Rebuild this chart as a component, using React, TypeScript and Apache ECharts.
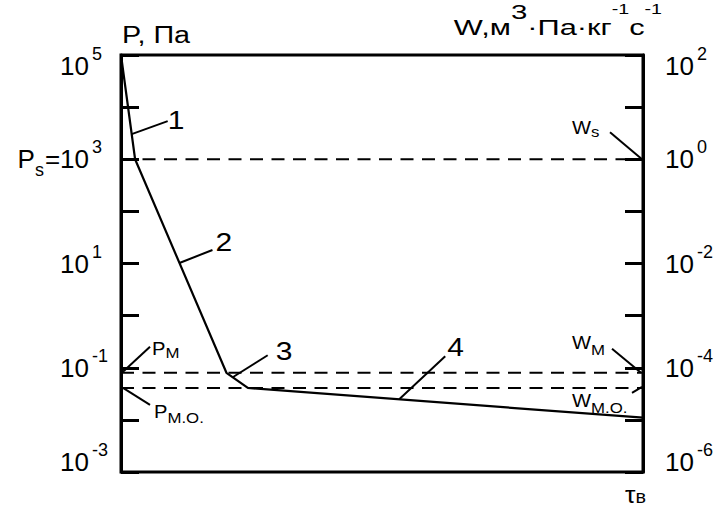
import React, { useEffect, useRef } from 'react';
import * as echarts from 'echarts';

// ---- data ----
const tau = [0, 2.7, 20.2, 24.3, 100];
const pressure = [1e5, 1e3, 0.08, 0.041, 0.011];
const tauMin = 0;
const tauMax = 100;
const levelPs = 1e3;
const levelPm = 0.08;
const levelPmo = 0.041;
const leftRange = [1e-3, 1e5];
const rightRange = [1e-6, 1e2];
const leftLabelExps = [5, 3, 1, -1, -3];
const rightLabelExps = [2, 0, -2, -4, -6];
const curveLabels = ['1', '2', '3', '4'];
const curveLabelTau = [2.05, 11.2, 21.4, 53.3];

// ---- styling / layout ----
const FONT = '"Liberation Sans", Arial, sans-serif';
const NUM = 26;
const SUP = 18;
const TXT_SCALE = 1.2;

function labelRich(key: string, d: number, H: number) {
  const padTop = H / 2 + d - NUM / 2;
  const num = {
    fontSize: NUM, lineHeight: H, fontFamily: FONT, color: '#000',
    verticalAlign: 'top', padding: [padTop, 0, H - NUM - padTop, 0],
  };
  const supTop = padTop + NUM / 2 - 12 - SUP / 2;
  const sup = (padRight: number) => ({
    fontSize: SUP, lineHeight: H, fontFamily: FONT, color: '#000',
    verticalAlign: 'top', padding: [supTop, padRight, 0, 3],
  });
  return {
    ['n' + key]: num,
    ['p' + key]: num,
    ['s' + key + '1']: sup(10),
    ['s' + key + '2']: sup(4),
    ['b' + key]: {
      fontSize: SUP, lineHeight: H, fontFamily: FONT, color: '#000',
      verticalAlign: 'top', padding: [padTop + NUM / 2 + 11 - SUP / 2, 1, 0, 0],
    },
  };
}

const axisRich = {
  ...labelRich('M', 0, 42),
  ...labelRich('T', 11, 48),
  ...labelRich('B', -10, 62),
};

function makeFormatter(exps: number[], withPs: boolean) {
  return (v: number) => {
    const e = Math.round(Math.log10(v));
    if (!exps.includes(e)) return '';
    const key = e === exps[0] ? 'T' : e === exps[exps.length - 1] ? 'B' : 'M';
    const s = `s${key}${String(e).length}`;
    if (withPs && e === 3) {
      return `{p${key}|P}{b${key}|s}{n${key}|=10}{${s}|${e}}`;
    }
    return `{n${key}|10}{${s}|${e}}`;
  };
}

const levelNotes = [
  { main: 'P', sub: 'М', tau: tauMin, p: levelPm, l: [2, -1, 29, -26], t: [31, -24], subDy: 4 },
  { main: 'P', sub: 'М.О.', tau: tauMin, p: levelPmo, l: [2, 0, 29, 17], t: [33, 23.5], subDy: 6 },
  { main: 'W', sub: 's', tau: tauMax, p: levelPs, l: [-1, 0, -33, -27], t: [-71, -31.5], subDy: 4 },
  { main: 'W', sub: 'М', tau: tauMax, p: levelPm, l: [-2, 0, -31, -24], t: [-71, -30], subDy: 7 },
  { main: 'W', sub: 'М.О.', tau: tauMax, p: levelPmo, l: [-1, -1, -11, 5], t: [-71, 12.5], subDy: 7 },
];

const curveNoteOffsets = [
  { l: [36, -13], t: [36, -14] },
  { l: [33, -13], t: [36, -21] },
  { l: [35, -22], t: [43, -26] },
  { l: [46, -43], t: [48, -52] },
];

function pressureAt(t: number) {
  for (let i = 0; i < tau.length - 1; i++) {
    if (t >= tau[i] && t <= tau[i + 1]) {
      const f = (t - tau[i]) / (tau[i + 1] - tau[i]);
      const lg = Math.log10(pressure[i]) + f * (Math.log10(pressure[i + 1]) - Math.log10(pressure[i]));
      return Math.pow(10, lg);
    }
  }
  return pressure[pressure.length - 1];
}

const dashed = { color: '#000', width: 2, type: [13, 8.5] as number[] };

const option: any = {
  animation: false,
  backgroundColor: '#fff',
  grid: {
    left: 121, top: 55, right: 79, bottom: 36,
    containLabel: false, outerBoundsMode: 'none',
    show: true, borderColor: '#000', borderWidth: 3, backgroundColor: 'transparent',
  },
  xAxis: { type: 'value', min: tauMin, max: tauMax, show: false },
  yAxis: [
    {
      type: 'log', logBase: 10, min: leftRange[0], max: leftRange[1], position: 'left',
      axisLine: { show: true, lineStyle: { color: '#000', width: 3 } },
      splitLine: { show: false },
      axisTick: { show: true, inside: true, length: 18, lineStyle: { color: '#000', width: 3 } },
      axisLabel: {
        show: true, margin: 9, showMinLabel: true, showMaxLabel: true,
        formatter: makeFormatter(leftLabelExps, true), rich: axisRich,
      },
    },
    {
      type: 'log', logBase: 10, min: rightRange[0], max: rightRange[1], position: 'right',
      axisLine: { show: true, lineStyle: { color: '#000', width: 3 } },
      splitLine: { show: false },
      axisTick: { show: true, inside: true, length: 18, lineStyle: { color: '#000', width: 3 } },
      axisLabel: {
        show: true, margin: 22, showMinLabel: true, showMaxLabel: true,
        formatter: makeFormatter(rightLabelExps, false), rich: axisRich,
      },
    },
  ],
  series: [
    {
      type: 'line', yAxisIndex: 0, symbol: 'none', silent: true,
      lineStyle: { color: '#000', width: 2.2 },
      data: tau.map((t, i) => [t, pressure[i]]),
      z: 5,
    },
    ...[levelPs, levelPm, levelPmo].map((lv) => ({
      type: 'line', yAxisIndex: 0, symbol: 'none', silent: true,
      lineStyle: dashed,
      data: [[tauMin, lv], [tauMax, lv]],
      z: 4,
    })),
  ],
};

function buildGraphics(chart: echarts.ECharts) {
  const toPx = (t: number, p: number) =>
    chart.convertToPixel({ xAxisIndex: 0, yAxisIndex: 0 } as any, [t, p]) as number[];
  const els: any[] = [];
  const line = (x1: number, y1: number, x2: number, y2: number) => ({
    type: 'line', silent: true, z: 10,
    shape: { x1, y1, x2, y2 },
    style: { stroke: '#000', lineWidth: 2 },
  });

  curveLabels.forEach((txt, i) => {
    const t = curveLabelTau[i];
    const [ax, ay] = toPx(t, pressureAt(t));
    const o = curveNoteOffsets[i];
    els.push(line(ax, ay, ax + o.l[0], ay + o.l[1]));
    els.push({
      type: 'text', x: ax + o.t[0], y: ay + o.t[1], scaleX: TXT_SCALE, z: 10,
      style: { text: txt, x: 0, y: 0, fontSize: 25, fontFamily: FONT, fill: '#000', align: 'left', verticalAlign: 'middle' },
    });
  });

  levelNotes.forEach((n) => {
    const [ax, ay] = toPx(n.tau, n.p);
    els.push(line(ax + n.l[0], ay + n.l[1], ax + n.l[2], ay + n.l[3]));
    els.push({
      type: 'text', x: ax + n.t[0], y: ay + n.t[1], scaleX: 1.12, z: 10,
      style: {
        text: `{m|${n.main}}{s|${n.sub}}`, x: 0, y: 0, align: 'left', verticalAlign: 'middle',
        rich: {
          m: { fontSize: 18, lineHeight: 30, fontFamily: FONT, fill: '#000', verticalAlign: 'top', padding: [6, 0, 6, 0] },
          s: { fontSize: 15, lineHeight: 30, fontFamily: FONT, fill: '#000', verticalAlign: 'top', padding: [7.5 + n.subDy, 0, 0, 0] },
        },
      },
    });
  });

  const [gl, gt] = toPx(tauMin, leftRange[1]);
  const [gr, gb] = toPx(tauMax, leftRange[0]);

  els.push({
    type: 'text', x: gl + 1, y: gt - 20, scaleX: 1.25, z: 10,
    style: { text: 'P, Па', x: 0, y: 0, fontSize: 23, fontFamily: FONT, fill: '#000', align: 'left', verticalAlign: 'middle' },
  });

  const m = { fontSize: 22, lineHeight: 22, fontFamily: FONT, fill: '#000', verticalAlign: 'top', padding: [20, 0, 0, 0] };
  els.push({
    type: 'text', x: gr + 19, y: gt - 58, scaleX: 1.4, z: 10,
    style: {
      text: '{m|W,м}{c|3}{m|·Па·кг}{e|-1}{m|с}{e|-1}', x: 0, y: 0, align: 'right', verticalAlign: 'top',
      rich: {
        m,
        c: { fontSize: 21, lineHeight: 21, fontFamily: FONT, fill: '#000', verticalAlign: 'top', padding: [4.5, 0, 0, 0] },
        e: { fontSize: 14, lineHeight: 14, fontFamily: FONT, fill: '#000', verticalAlign: 'top', padding: [5.5, 0, 0, 0] },
      },
    },
  });

  els.push({
    type: 'text', x: gr + 3, y: gb + 34, scaleX: 1.1, z: 10,
    style: {
      text: '{t|τ}{b|в}', x: 0, y: 0, align: 'right', verticalAlign: 'bottom',
      rich: {
        t: { fontSize: 24, lineHeight: 24, fontFamily: FONT, fill: '#000', verticalAlign: 'bottom' },
        b: { fontSize: 18, lineHeight: 18, fontFamily: FONT, fill: '#000', verticalAlign: 'bottom' },
      },
    },
  });

  return els;
}

export default function App() {
  const ref = useRef<HTMLDivElement>(null);
  useEffect(() => {
    const chart = echarts.init(ref.current!, null, { renderer: 'svg' });
    chart.setOption(option);
    chart.setOption({ graphic: { elements: buildGraphics(chart) } });
    return () => chart.dispose();
  }, []);
  return (
    <div
      ref={ref}
      style={{ position: 'fixed', left: 0, top: 0, width: 722, height: 508, background: '#fff' }}
    />
  );
}
